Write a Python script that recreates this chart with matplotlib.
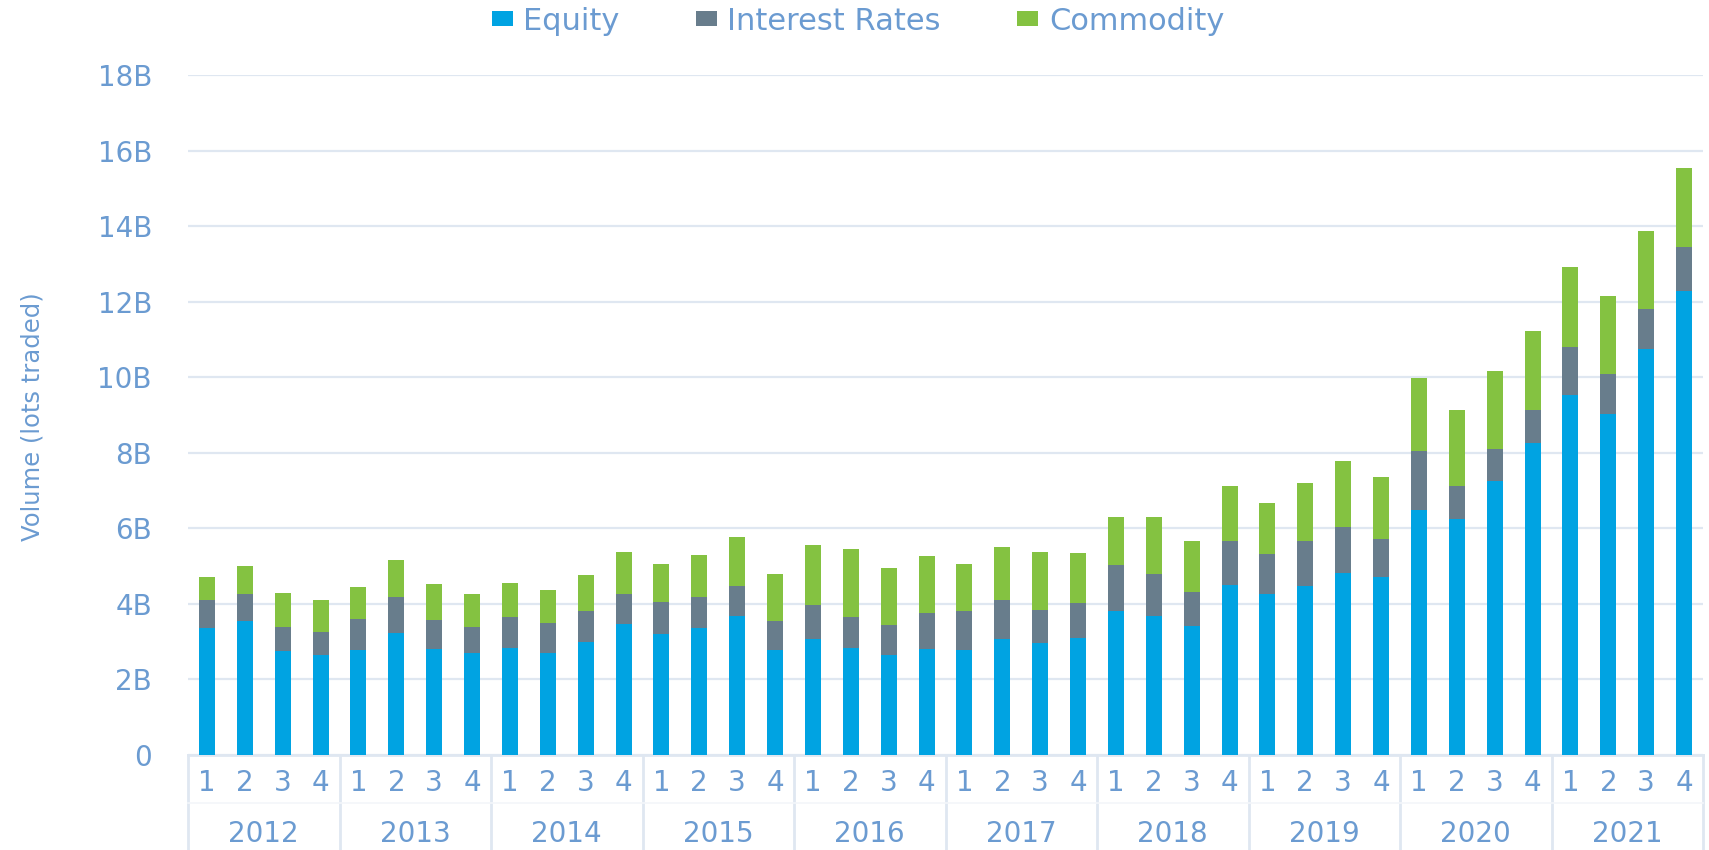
import numpy as np
import matplotlib
matplotlib.use("Agg")
import matplotlib.pyplot as plt
from matplotlib.transforms import blended_transform_factory

# volumes in billions of lots
years = ['2012', '2013', '2014', '2015', '2016', '2017', '2018', '2019', '2020', '2021']
quarters = ['1', '2', '3', '4']

equity = [3.35, 3.54, 2.75, 2.66,
          2.78, 3.22, 2.80, 2.70,
          2.84, 2.71, 3.00, 3.47,
          3.20, 3.36, 3.67, 2.79,
          3.07, 2.84, 2.66, 2.81,
          2.78, 3.07, 2.96, 3.11,
          3.80, 3.68, 3.41, 4.49,
          4.26, 4.47, 4.82, 4.70,
          6.48, 6.26, 7.26, 8.25,
          9.52, 9.03, 10.76, 12.29]

interest_rates = [0.75, 0.73, 0.63, 0.60,
                  0.82, 0.96, 0.77, 0.70,
                  0.81, 0.79, 0.82, 0.78,
                  0.84, 0.83, 0.80, 0.75,
                  0.91, 0.82, 0.79, 0.95,
                  1.02, 1.03, 0.89, 0.92,
                  1.23, 1.12, 0.91, 1.18,
                  1.07, 1.20, 1.21, 1.03,
                  1.56, 0.87, 0.83, 0.87,
                  1.27, 1.05, 1.05, 1.17]

commodity = [0.60, 0.73, 0.91, 0.85,
             0.85, 0.97, 0.96, 0.85,
             0.89, 0.88, 0.95, 1.12,
             1.01, 1.11, 1.31, 1.26,
             1.57, 1.79, 1.51, 1.50,
             1.26, 1.40, 1.53, 1.33,
             1.27, 1.50, 1.35, 1.46,
             1.34, 1.54, 1.76, 1.62,
             1.94, 1.99, 2.08, 2.11,
             2.12, 2.08, 2.06, 2.07]

yticks = [0, 2, 4, 6, 8, 10, 12, 14, 16, 18]

c_eq = '#00a3e2'
c_ir = '#687d8c'
c_com = '#84c241'
txt = '#6b9bd1'
light = '#dfe7f1'

plt.rcParams['font.family'] = ['DejaVu Sans']

W, H = 1709, 850
fig = plt.figure(figsize=(W/100, H/100), dpi=100)
ax = fig.add_axes([188/W, 1-755/H, 1515/W, 680/H])

n = len(equity)
x = np.arange(n)
eq = np.array(equity)
ir = np.array(interest_rates)
co = np.array(commodity)
w = 0.42
ax.bar(x, eq, w, color=c_eq, label='Equity', zorder=3)
ax.bar(x, ir, w, bottom=eq, color=c_ir, label='Interest Rates', zorder=3)
ax.bar(x, co, w, bottom=eq+ir, color=c_com, label='Commodity', zorder=3)

ax.set_xlim(-0.5, n-0.5)
ax.set_ylim(0, 18)
ax.set_yticks(yticks)
ax.set_yticklabels(['0' if v == 0 else str(v)+'B' for v in yticks])
ax.tick_params(axis='y', length=0, pad=26, labelsize=20, labelcolor=txt)
ax.grid(axis='y', color=light, linewidth=1.6, zorder=0)
for s in ['top', 'right', 'left']:
    ax.spines[s].set_visible(False)
ax.spines['bottom'].set_color(light)
ax.spines['bottom'].set_linewidth(2)

# quarter labels under each bar, year labels under each group
ax.set_xticks(x)
ax.set_xticklabels(quarters*len(years))
ax.tick_params(axis='x', length=0, pad=10, labelsize=20, labelcolor=txt)

tr = blended_transform_factory(ax.transData, ax.transAxes)
h = 680
for i, yr in enumerate(years):
    ax.text(i*4+1.5, -79/h, yr, transform=tr, ha='center', va='center',
            fontsize=20, color=txt)
for b in range(len(years)+1):
    ax.plot([b*4-0.5, b*4-0.5], [0, -100/h], transform=tr, color=light,
            linewidth=2, clip_on=False)
ax.plot([-0.5, n-0.5], [-48/h, -48/h], transform=tr, color='#f3f6fa',
        linewidth=1.2, clip_on=False)

fig.text(33/W, 1-417/H, 'Volume (lots traded)', rotation=90,
         ha='center', va='center', fontsize=17.5, color=txt)

ax.legend(loc='center', bbox_to_anchor=(858/W, 1-21/H),
          bbox_transform=fig.transFigure, ncol=3, frameon=False,
          fontsize=22, labelcolor=txt, handlelength=0.68, handleheight=0.4,
          handletextpad=0.35, columnspacing=2.5, borderpad=0)

fig.savefig('out.png', dpi=100)
